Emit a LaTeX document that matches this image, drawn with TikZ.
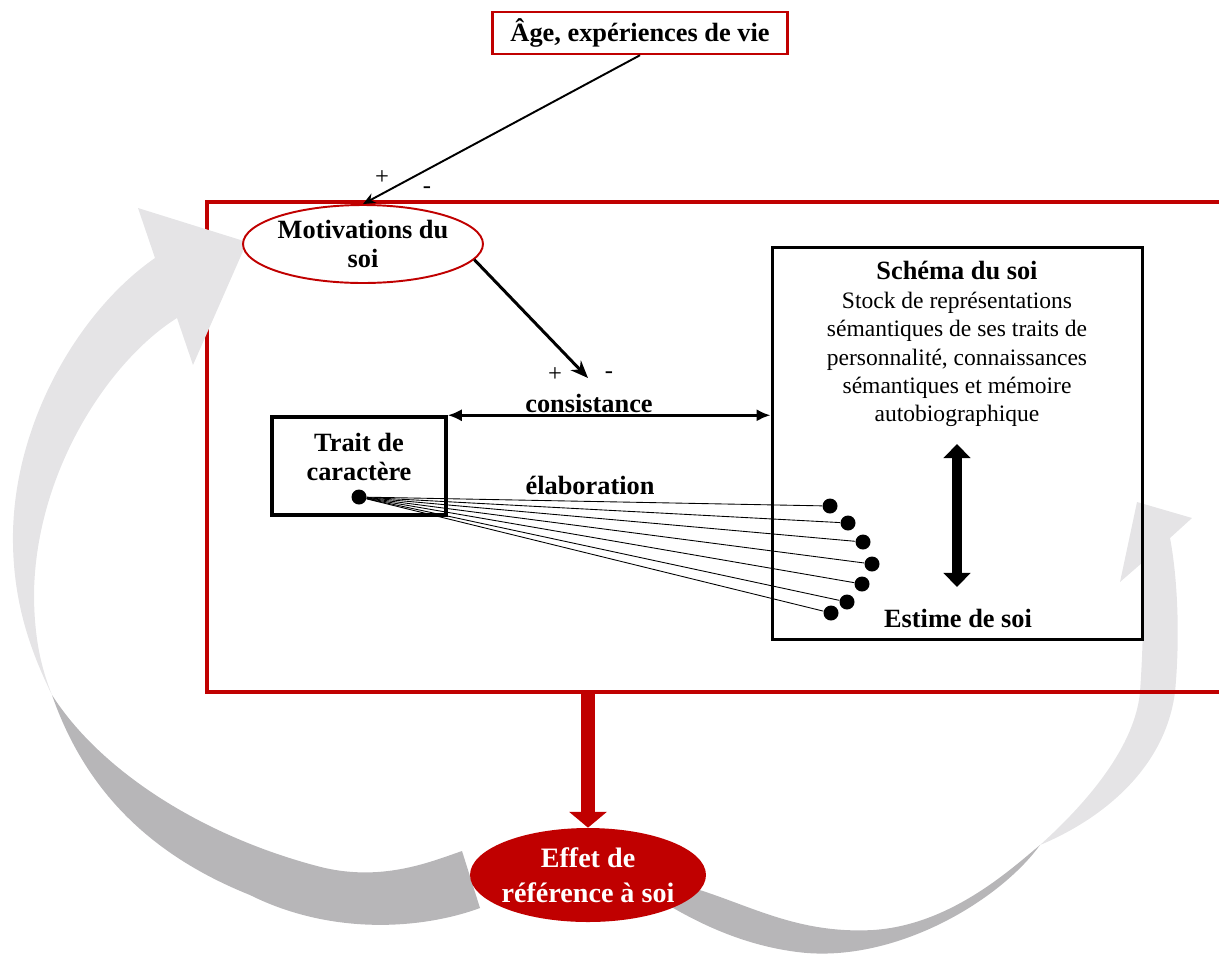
\documentclass[tikz,border=0pt]{standalone}
\usepackage{fontspec}
\setmainfont{Liberation Serif}
\usetikzlibrary{shapes.geometric, arrows.meta, positioning, calc}
\definecolor{darkred}{RGB}{192,0,0}
\definecolor{ribbonlight}{RGB}{229,228,230}
\definecolor{ribbondark}{RGB}{183,182,184}

\begin{document}
\begin{tikzpicture}[x=0.02cm, y=-0.02cm,
  boldtext/.style={font=\bfseries\fontsize{15}{17}\selectfont},
  bodytext/.style={font=\fontsize{13.4}{16.2}\selectfont},
  signtext/.style={font=\fontsize{14}{14}\selectfont, inner sep=0pt},
  blackbox/.style={draw, inner sep=0pt},
  blob/.style={circle, fill, inner sep=0pt, minimum size=0.3cm},
  thinline/.style={line width=0.5pt}
]
\useasboundingbox (0,0) rectangle (1219,954);
\clip (0,0) rectangle (1219,954);

% Right ribbon, back side then front side
\fill[ribbondark] (650,878) .. controls (730,890) and (780,935) .. (873,930)
  .. controls (950,925) and (1010,870) .. (1040,845)
  .. controls (1000,900) and (900,960) .. (807,953)
  .. controls (750,948) and (700,925) .. (660,900) -- cycle;
\fill[ribbonlight] (1040,845) .. controls (1090,800) and (1135,745) .. (1140,692)
  .. controls (1143,650) and (1144,600) .. (1143,562)
  -- (1120,582) -- (1137,502) -- (1192,518) -- (1170,538)
  .. controls (1178,580) and (1180,640) .. (1175,692)
  .. controls (1165,770) and (1100,820) .. (1040,845) -- cycle;

% Red frame
\node[draw=darkred, line width=2.3pt, minimum width=20.28cm, minimum height=9.8cm, inner sep=0pt] (frame) at (714,447) {};

% Left ribbon, back side then front side
\fill[ribbondark] (52,695) .. controls (100,770) and (200,835) .. (317,866)
  .. controls (380,883) and (430,862) .. (462,851)
  -- (480,908)
  .. controls (420,930) and (330,935) .. (250,895)
  .. controls (150,855) and (85,790) .. (52,695) -- cycle;
\fill[ribbonlight] (52,695) .. controls (30,650) and (12,600) .. (13,533)
  .. controls (15,420) and (80,310) .. (155,258)
  -- (138,208) -- (247,242) -- (193,365) -- (177,318)
  .. controls (110,360) and (36,470) .. (34,593)
  .. controls (34,640) and (42,670) .. (52,695) -- cycle;

% Top box and motivations
\node[draw=darkred, line width=1.4pt, minimum width=5.9cm, minimum height=0.84cm, inner sep=0pt, boldtext] (age) at (640,33) {Âge, expériences de vie};
\node[ellipse, draw=darkred, line width=1.1pt, fill=white, minimum width=4.8cm, minimum height=1.56cm,
  inner xsep=-1pt, inner ysep=0pt, align=center, boldtext] (motiv) at (363,244) {Motivations du\\soi};
\draw[line width=1.1pt, -{Stealth[length=7pt,width=6pt]}] (age.south) -- (motiv.north);
\node[signtext] (plusA) at (382,178) {+};
\node[signtext] (minusA) at (427,190) {-};

% Motivations towards consistance
\coordinate (tip) at (588,378);
\draw[line width=1.7pt, -{Stealth[length=10pt,width=8pt]}] (motiv.-8) -- (tip);
\node[signtext] (plusB) at (555,375) {+};
\node[signtext] (minusB) at (609,375) {-};
\node[boldtext] (cons) at (589,403) {consistance};

% Trait de caractere
\node[blackbox, line width=2pt, minimum width=3.48cm, minimum height=1.96cm] (trait) at (359,466) {};
\node[boldtext, align=center] (traitlbl) at (359,457) {Trait de\\caractère};

% Schema du soi
\node[blackbox, line width=1.7pt, minimum width=7.42cm, minimum height=7.86cm] (schema) at (957.5,443.5) {};
\node[bodytext, align=center, anchor=north, inner sep=0pt] (schtxt) at (957,261)
  {{\bfseries\fontsize{15}{17}\selectfont Schéma du soi}\\Stock de représentations\\sémantiques de ses traits de\\personnalité, connaissances\\sémantiques et mémoire\\autobiographique};
\node[boldtext] (estime) at (958,618) {Estime de soi};
\coordinate (vtop) at (957,444);
\coordinate (vbot) at (957,587);
\draw[line width=5.7pt, {Triangle[length=8pt,width=15pt]}-{Triangle[length=8pt,width=15pt]}] (vtop) -- (vbot);

\draw[line width=2pt, {Latex[length=8pt,width=7pt]}-{Latex[length=8pt,width=7pt]}] (trait.north east) -- (trait.north east -| schema.west);

% Elaboration
\node[boldtext] (elab) at (590,485) {élaboration};
\node[blob] (src) at (359,497) {};
\foreach \i/\x/\y in {1/830/506, 2/848/523, 3/863/542, 4/872/564, 5/862/584, 6/847/602, 7/831/613}
{
  \node[blob] (d\i) at (\x,\y) {};
  \draw[thinline] (src) -- (d\i);
}

% Effet de reference a soi
\node[ellipse, fill=darkred, minimum width=4.72cm, minimum height=1.88cm, inner xsep=-4pt, inner ysep=0pt,
  align=center, text=white, font=\bfseries\fontsize{16}{20}\selectfont] (effet) at (588,875) {Effet de\\référence à soi};
\draw[darkred, line width=8.5pt, -{Triangle[length=9pt,width=21pt]}] (frame.south -| effet.north) -- (effet.north);
\end{tikzpicture}
\end{document}
